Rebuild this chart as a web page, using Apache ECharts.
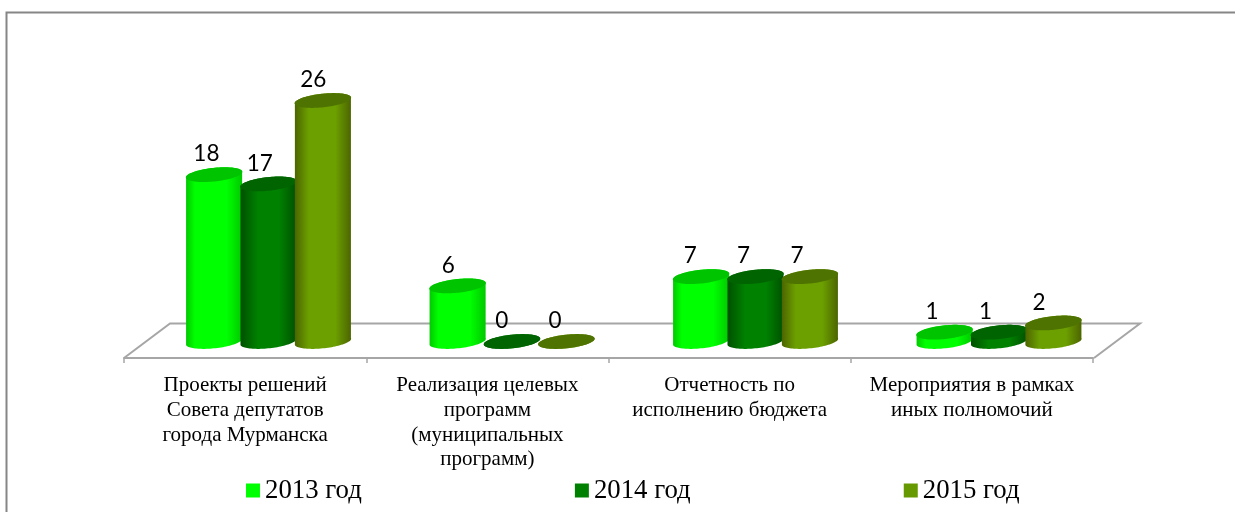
<!DOCTYPE html>
<html><head><meta charset="utf-8">
<style>html,body{margin:0;padding:0;background:#fff}#c{width:1235px;height:512px}</style>
<script src="https://cdn.jsdelivr.net/npm/echarts@6/dist/echarts.min.js"></script>
</head><body><div id="c"></div>
<script>
const categories = ['Проекты решений\nСовета депутатов\nгорода Мурманска','Реализация целевых\nпрограмм\n(муниципальных\nпрограмм)','Отчетность по\nисполнению бюджета','Мероприятия в рамках\nиных полномочий'];
const seriesNames = ['2013 год','2014 год','2015 год'];
const values2013 = [18,6,7,1];
const values2014 = [17,0,7,1];
const values2015 = [26,0,7,2];
const seriesValues = [values2013,values2014,values2015];
const palettes = [
 {legend:'#00ff00',edge:'#00c800',mid:'#00ff00',top:'#00c400',s1:.16,s2:.72},
 {legend:'#008000',edge:'#005000',mid:'#008200',top:'#006400',s1:.32,s2:.68},
 {legend:'#669900',edge:'#4c6400',mid:'#6ca000',top:'#4f7300',s1:.25,s2:.72}
];
const tilt = 6*Math.PI/180, ryPx = 6.8, grey='#a6a6a6';
function ell(cx,cy,rx,ry,a){
  return [cx+rx*Math.cos(a)*Math.cos(tilt)+ry*Math.sin(a)*Math.sin(tilt),
          cy-rx*Math.cos(a)*Math.sin(tilt)+ry*Math.sin(a)*Math.cos(tilt)];
}
function render(si){
  return function(params,api){
    const cat=api.value(0), v=api.value(1);
    const band=api.size([1,0])[0];
    const groupX=api.coord([cat,v])[0];
    const cx=groupX+(si-1)*band*0.2234;
    const ty=api.coord([cat,v])[1], by=api.coord([cat,0])[1];
    const rx=band*0.1165, p=palettes[si];
    const pts=[]; const N=48;
    const a0=-tilt*0.9;
    for(let i=0;i<=N;i++){pts.push(ell(cx,ty,rx,ryPx,Math.PI+a0+(Math.PI*i/N)));}
    for(let i=0;i<=N;i++){pts.push(ell(cx,by,rx,ryPx,a0+(Math.PI*i/N)));}
    const grad={type:'linear',x:0,y:0,x2:1,y2:0,colorStops:[
      {offset:0,color:p.edge},{offset:p.s1,color:p.mid},{offset:p.s2,color:p.mid},{offset:1,color:p.edge}]};
    const topPts=[];for(let i=0;i<N*2;i++){topPts.push(ell(cx,ty,rx,ryPx,Math.PI*i/N));}
    const labelX=groupX-(8.7+1.6*cat)+(si-1)*53.4;
    const children=[
      {type:'polygon',shape:{points:pts},style:{fill:grad}},
      {type:'polygon',shape:{points:topPts},style:{fill:p.top}},
      {type:'text',x:labelX,y:ty-20.5,style:{text:String(v),fill:'#000',font:'22.5px Lato',textAlign:'center',textVerticalAlign:'middle'}}
    ];
    return {type:'group',children};
  };
}
const chart=echarts.init(document.getElementById('c'));
chart.setOption({
  animation:false,
  backgroundColor:'#fff',
  grid:[{left:124,top:100,width:969,height:258},{left:146.75,top:100.5,width:974,height:241}],
  xAxis:[
    {gridIndex:0,type:'category',data:categories,boundaryGap:true,
     axisLine:{lineStyle:{color:grey,width:2}},
     axisTick:{show:true,length:5,alignWithLabel:false,lineStyle:{color:grey,width:1.5}},
     axisLabel:{interval:0,margin:15,color:'#000',fontFamily:'Liberation Serif',fontSize:21,lineHeight:24.8,verticalAlign:'top'}},
    {gridIndex:1,type:'category',data:categories,show:false}
  ],
  yAxis:[
    {gridIndex:0,type:'value',min:0,max:26,show:false},
    {gridIndex:1,type:'value',min:0,max:26,show:false}
  ],
  legend:{left:241,top:472,icon:'rect',itemWidth:14,itemHeight:14,itemGap:213,
    textStyle:{fontFamily:'Liberation Serif',fontSize:26.8,color:'#000'},data:seriesNames,selectedMode:false},
  graphic:{elements:[
    {type:'polyline',z:0,shape:{points:[[6.5,512],[6.5,12.5],[1235,12.5]]},style:{stroke:'#868686',lineWidth:2,fill:null}},
    {type:'polyline',z:0,shape:{points:[[124,358],[170,323.5],[1140,323.5],[1094,358]]},style:{stroke:grey,lineWidth:2,fill:null}}
  ]},
  series:seriesNames.map((name,si)=>({
    name,type:'custom',xAxisIndex:1,yAxisIndex:1,z:2+si,
    itemStyle:{color:palettes[si].legend},
    renderItem:render(si),
    data:seriesValues[si].map((v,i)=>[i,v]),
    encode:{x:0,y:1},clip:false
  }))
});
</script></body></html>
